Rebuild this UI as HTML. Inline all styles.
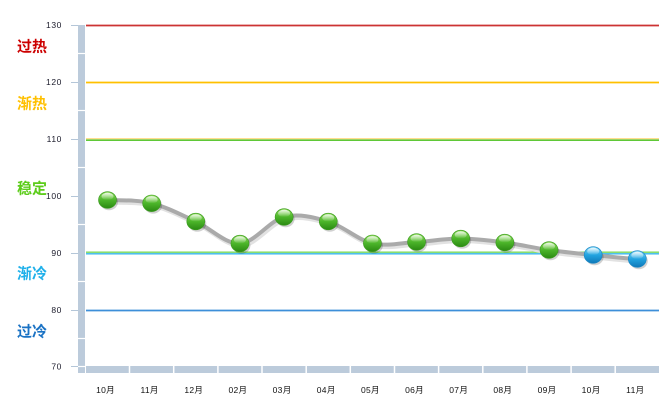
<!DOCTYPE html>
<html><head><meta charset="utf-8"><style>
html,body{margin:0;padding:0;background:#fff;}
svg{display:block;}
</style></head><body>
<svg width="672" height="413" viewBox="0 0 672 413" xmlns="http://www.w3.org/2000/svg">
<defs>
<linearGradient id="gg" x1="0" y1="0" x2="0" y2="1">
<stop offset="0" stop-color="#8fdc5c"/><stop offset="0.5" stop-color="#4cb52a"/><stop offset="1" stop-color="#2a8a12"/>
</linearGradient>
<linearGradient id="bg" x1="0" y1="0" x2="0" y2="1">
<stop offset="0" stop-color="#7fd6f6"/><stop offset="0.5" stop-color="#22a4e0"/><stop offset="1" stop-color="#0f78b8"/>
</linearGradient>
<linearGradient id="hl" x1="0" y1="0" x2="0" y2="1">
<stop offset="0" stop-color="#fff" stop-opacity="0.85"/><stop offset="1" stop-color="#fff" stop-opacity="0"/>
</linearGradient>
</defs>
<!-- vertical axis bar -->
<rect x="78" y="25" width="7" height="348" fill="#bccbdb"/>
<g stroke="#fff" stroke-width="1.2">
<line x1="78" y1="53.5" x2="85" y2="53.5"/><line x1="78" y1="110.5" x2="85" y2="110.5"/>
<line x1="78" y1="167.5" x2="85" y2="167.5"/><line x1="78" y1="224.5" x2="85" y2="224.5"/>
<line x1="78" y1="281.5" x2="85" y2="281.5"/><line x1="78" y1="338.5" x2="85" y2="338.5"/>
<line x1="78" y1="366.5" x2="85" y2="366.5"/>
</g>
<!-- bottom bar -->
<rect x="86" y="366" width="573" height="7" fill="#bccbdb"/>
<g stroke="#fff" stroke-width="1.5">
<line x1="129.5" y1="366" x2="129.5" y2="373"/><line x1="173.7" y1="366" x2="173.7" y2="373"/>
<line x1="217.9" y1="366" x2="217.9" y2="373"/><line x1="262" y1="366" x2="262" y2="373"/>
<line x1="306.2" y1="366" x2="306.2" y2="373"/><line x1="350.3" y1="366" x2="350.3" y2="373"/>
<line x1="394.5" y1="366" x2="394.5" y2="373"/><line x1="438.6" y1="366" x2="438.6" y2="373"/>
<line x1="482.8" y1="366" x2="482.8" y2="373"/><line x1="526.9" y1="366" x2="526.9" y2="373"/>
<line x1="571.1" y1="366" x2="571.1" y2="373"/><line x1="615.2" y1="366" x2="615.2" y2="373"/>
</g>
<!-- ticks -->
<g stroke="#b4c6d8" stroke-width="1">
<line x1="71" y1="25.5" x2="78" y2="25.5"/><line x1="71" y1="82.5" x2="78" y2="82.5"/>
<line x1="71" y1="139.5" x2="78" y2="139.5"/><line x1="71" y1="196.5" x2="78" y2="196.5"/>
<line x1="71" y1="253.5" x2="78" y2="253.5"/><line x1="71" y1="310.5" x2="78" y2="310.5"/>
<line x1="71" y1="366.5" x2="78" y2="366.5"/>
</g>
<!-- tick labels -->
<g font-family="Liberation Sans, sans-serif" font-size="8.5" fill="#1a1a2a" text-anchor="end" letter-spacing="0.6">
<text x="62" y="28">130</text><text x="62" y="85">120</text><text x="62" y="142">110</text>
<text x="62" y="199">100</text><text x="62" y="256">90</text><text x="62" y="313">80</text>
<text x="62" y="369.5">70</text>
</g>
<!-- zone lines -->
<line x1="86" y1="25.5" x2="659" y2="25.5" stroke="#cc3333" stroke-width="1.8"/>
<line x1="86" y1="82.5" x2="659" y2="82.5" stroke="#ffc000" stroke-width="1.8"/>
<line x1="86" y1="138.8" x2="659" y2="138.8" stroke="#ffd36a" stroke-width="1"/>
<line x1="86" y1="140.2" x2="659" y2="140.2" stroke="#5fc837" stroke-width="1.6"/>
<line x1="86" y1="252.2" x2="659" y2="252.2" stroke="#7ad85a" stroke-width="1.4"/>
<line x1="86" y1="253.8" x2="659" y2="253.8" stroke="#35b6ec" stroke-width="1.4"/>
<line x1="86" y1="310.5" x2="659" y2="310.5" stroke="#3d8fd9" stroke-width="1.8"/>
<!-- zone labels -->
<g font-family="Liberation Sans, Noto Sans CJK SC, sans-serif" font-size="15" font-weight="bold">
<text x="17" y="51.5" fill="#cc0000">过热</text>
<text x="17" y="108.5" fill="#ffc000">渐热</text>
<text x="17" y="193.5" fill="#5ccc1a">稳定</text>
<text x="17" y="278.5" fill="#1fb0ea">渐冷</text>
<text x="17" y="336.5" fill="#1a72c4">过冷</text>
</g>
<!-- series line -->
<path transform="translate(1.5,2.5)" fill="none" stroke="#e2e2e2" stroke-width="4" stroke-linecap="round" d="M107.5,200 C122.22,200.55 136.93,199.72 151.65,203.3 C166.37,206.88 181.08,214.8 195.8,221.5 C210.52,228.2 225.23,244.25 239.95,243.5 C254.67,242.75 269.38,220.67 284.1,217 C298.82,213.33 313.53,217.12 328.25,221.5 C342.97,225.88 357.68,239.88 372.4,243.3 C387.12,246.72 401.83,242.8 416.55,242 C431.27,241.2 445.98,238.42 460.7,238.5 C475.42,238.58 490.13,240.58 504.85,242.5 C519.57,244.42 534.28,247.92 549,250 C563.72,252.08 578.43,253.5 593.15,255 C607.87,256.5 622.58,258.33 637.3,259"/>
<path fill="none" stroke="#aaaaaa" stroke-width="4" stroke-linecap="round" d="M107.5,200 C122.22,200.55 136.93,199.72 151.65,203.3 C166.37,206.88 181.08,214.8 195.8,221.5 C210.52,228.2 225.23,244.25 239.95,243.5 C254.67,242.75 269.38,220.67 284.1,217 C298.82,213.33 313.53,217.12 328.25,221.5 C342.97,225.88 357.68,239.88 372.4,243.3 C387.12,246.72 401.83,242.8 416.55,242 C431.27,241.2 445.98,238.42 460.7,238.5 C475.42,238.58 490.13,240.58 504.85,242.5 C519.57,244.42 534.28,247.92 549,250 C563.72,252.08 578.43,253.5 593.15,255 C607.87,256.5 622.58,258.33 637.3,259"/>
<!-- markers -->
<g id="mk">
<g transform="translate(107.5,200)"><ellipse cx="1.5" cy="2" rx="9" ry="8.3" fill="#000" opacity="0.18"/><ellipse rx="9" ry="8.3" fill="url(#gg)" stroke="#3a9a1e" stroke-width="0.6"/><ellipse cy="-3.6" rx="6" ry="3.6" fill="url(#hl)"/></g>
<g transform="translate(151.65,203.3)"><ellipse cx="1.5" cy="2" rx="9" ry="8.3" fill="#000" opacity="0.18"/><ellipse rx="9" ry="8.3" fill="url(#gg)" stroke="#3a9a1e" stroke-width="0.6"/><ellipse cy="-3.6" rx="6" ry="3.6" fill="url(#hl)"/></g>
<g transform="translate(195.8,221.5)"><ellipse cx="1.5" cy="2" rx="9" ry="8.3" fill="#000" opacity="0.18"/><ellipse rx="9" ry="8.3" fill="url(#gg)" stroke="#3a9a1e" stroke-width="0.6"/><ellipse cy="-3.6" rx="6" ry="3.6" fill="url(#hl)"/></g>
<g transform="translate(239.95,243.5)"><ellipse cx="1.5" cy="2" rx="9" ry="8.3" fill="#000" opacity="0.18"/><ellipse rx="9" ry="8.3" fill="url(#gg)" stroke="#3a9a1e" stroke-width="0.6"/><ellipse cy="-3.6" rx="6" ry="3.6" fill="url(#hl)"/></g>
<g transform="translate(284.1,217)"><ellipse cx="1.5" cy="2" rx="9" ry="8.3" fill="#000" opacity="0.18"/><ellipse rx="9" ry="8.3" fill="url(#gg)" stroke="#3a9a1e" stroke-width="0.6"/><ellipse cy="-3.6" rx="6" ry="3.6" fill="url(#hl)"/></g>
<g transform="translate(328.25,221.5)"><ellipse cx="1.5" cy="2" rx="9" ry="8.3" fill="#000" opacity="0.18"/><ellipse rx="9" ry="8.3" fill="url(#gg)" stroke="#3a9a1e" stroke-width="0.6"/><ellipse cy="-3.6" rx="6" ry="3.6" fill="url(#hl)"/></g>
<g transform="translate(372.4,243.3)"><ellipse cx="1.5" cy="2" rx="9" ry="8.3" fill="#000" opacity="0.18"/><ellipse rx="9" ry="8.3" fill="url(#gg)" stroke="#3a9a1e" stroke-width="0.6"/><ellipse cy="-3.6" rx="6" ry="3.6" fill="url(#hl)"/></g>
<g transform="translate(416.55,242)"><ellipse cx="1.5" cy="2" rx="9" ry="8.3" fill="#000" opacity="0.18"/><ellipse rx="9" ry="8.3" fill="url(#gg)" stroke="#3a9a1e" stroke-width="0.6"/><ellipse cy="-3.6" rx="6" ry="3.6" fill="url(#hl)"/></g>
<g transform="translate(460.7,238.5)"><ellipse cx="1.5" cy="2" rx="9" ry="8.3" fill="#000" opacity="0.18"/><ellipse rx="9" ry="8.3" fill="url(#gg)" stroke="#3a9a1e" stroke-width="0.6"/><ellipse cy="-3.6" rx="6" ry="3.6" fill="url(#hl)"/></g>
<g transform="translate(504.85,242.5)"><ellipse cx="1.5" cy="2" rx="9" ry="8.3" fill="#000" opacity="0.18"/><ellipse rx="9" ry="8.3" fill="url(#gg)" stroke="#3a9a1e" stroke-width="0.6"/><ellipse cy="-3.6" rx="6" ry="3.6" fill="url(#hl)"/></g>
<g transform="translate(549,250)"><ellipse cx="1.5" cy="2" rx="9" ry="8.3" fill="#000" opacity="0.18"/><ellipse rx="9" ry="8.3" fill="url(#gg)" stroke="#3a9a1e" stroke-width="0.6"/><ellipse cy="-3.6" rx="6" ry="3.6" fill="url(#hl)"/></g>
<g transform="translate(593.15,255)"><ellipse cx="1.5" cy="2" rx="9" ry="8.3" fill="#000" opacity="0.18"/><ellipse rx="9" ry="8.3" fill="url(#bg)" stroke="#1a86c4" stroke-width="0.6"/><ellipse cy="-3.6" rx="6" ry="3.6" fill="url(#hl)"/></g>
<g transform="translate(637.3,259)"><ellipse cx="1.5" cy="2" rx="9" ry="8.3" fill="#000" opacity="0.18"/><ellipse rx="9" ry="8.3" fill="url(#bg)" stroke="#1a86c4" stroke-width="0.6"/><ellipse cy="-3.6" rx="6" ry="3.6" fill="url(#hl)"/></g>
</g>
<!-- category labels -->
<g font-family="Liberation Sans, Noto Sans CJK SC, sans-serif" font-size="8.5" fill="#111" text-anchor="middle" letter-spacing="0.3">
<text x="105.5" y="393">10月</text><text x="149.6" y="393">11月</text><text x="193.8" y="393">12月</text>
<text x="237.9" y="393">02月</text><text x="282.1" y="393">03月</text><text x="326.2" y="393">04月</text>
<text x="370.4" y="393">05月</text><text x="414.5" y="393">06月</text><text x="458.7" y="393">07月</text>
<text x="502.8" y="393">08月</text><text x="547" y="393">09月</text><text x="591.1" y="393">10月</text>
<text x="635.3" y="393">11月</text>
</g>
</svg>
</body></html>
